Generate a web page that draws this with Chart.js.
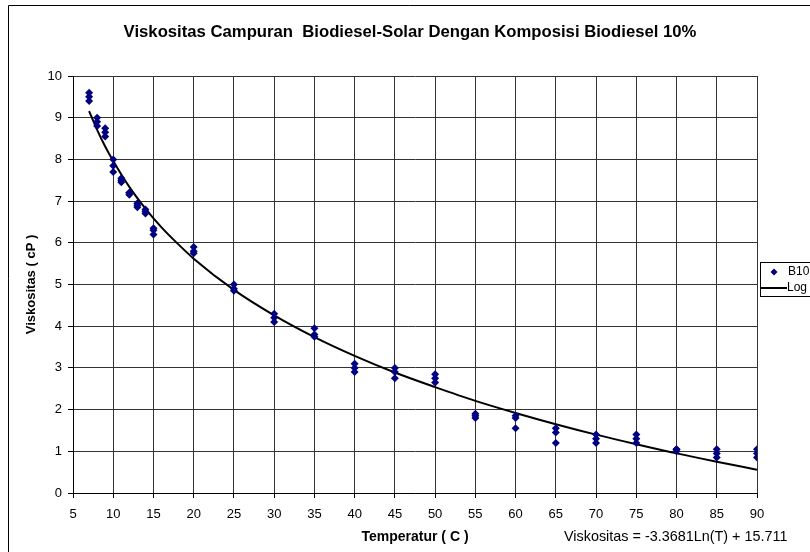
<!DOCTYPE html>
<html>
<head>
<meta charset="utf-8">
<script src="https://cdn.jsdelivr.net/npm/chart.js@4/dist/chart.umd.min.js"></script>
<style>
html,body{margin:0;padding:0;background:#fff;}
#wrap{position:relative;width:810px;height:552px;}
</style>
</head>
<body>
<div id="wrap"><canvas id="c" width="810" height="552"></canvas></div>
<script>
const chartTitle = "Viskositas Campuran  Biodiesel-Solar Dengan Komposisi Biodiesel 10%";
const xAxisTitle = "Temperatur ( C )";
const yAxisTitle = "Viskositas ( cP )";
const equationText = "Viskositas = -3.3681Ln(T) + 15.711";
const seriesNames = ["B10", "Log"];

// measured points (temperature, viscosity)
const tempB10 = [7,7,7, 8,8,8, 9,9,9, 10,10,10, 11,11,11, 12,12,12, 13,13,13, 14,14,14, 15,15,15,
  20,20,20, 25,25,25, 30,30,30, 35,35,35, 40,40,40, 45,45,45, 50,50,50, 55,55,55,
  60,60,60, 65,65,65, 70,70,70, 75,75,75, 80,80,80, 85,85,85, 90,90,90];
const viscB10 = [9.6,9.5,9.4, 9.0,8.9,8.8, 8.75,8.65,8.55, 8.0,7.85,7.7, 7.55,7.5,7.45, 7.2,7.2,7.15,
  6.95,6.9,6.85, 6.8,6.75,6.7, 6.35,6.3,6.2, 5.9,5.8,5.75, 5.0,4.9,4.85, 4.3,4.2,4.1,
  3.95,3.8,3.75, 3.1,3.0,2.9, 3.0,2.9,2.75, 2.85,2.75,2.65, 1.9,1.85,1.8,
  1.85,1.8,1.55, 1.55,1.45,1.2, 1.4,1.3,1.2, 1.4,1.3,1.2, 1.05,1.05,1.0, 1.05,0.95,0.85, 1.05,0.95,0.85];

// logarithmic trend line
const trendT = [7, 8, 9, 10, 12, 14, 16, 18, 20, 25, 30, 35, 40, 45, 50, 55, 60, 65, 70, 75, 80, 85, 90];
const trendV = [9.16, 8.71, 8.31, 7.96, 7.34, 6.82, 6.37, 5.98, 5.62, 4.87, 4.26, 3.74, 3.29, 2.89, 2.54, 2.21, 1.92, 1.65, 1.40, 1.17, 0.95, 0.75, 0.56];

const FONT = "'Liberation Sans', Arial, sans-serif";

const decor = {
  id: 'decor',
  beforeDraw(chart) {
    const ctx = chart.ctx;
    ctx.save();
    ctx.fillStyle = '#fff';
    ctx.fillRect(0, 0, chart.width, chart.height);
    ctx.strokeStyle = '#000';
    ctx.lineWidth = 1;
    ctx.beginPath();
    ctx.moveTo(8.5, chart.height);
    ctx.lineTo(8.5, 5.5);
    ctx.lineTo(chart.width, 5.5);
    ctx.stroke();
    ctx.restore();
  },
  afterDraw(chart) {
    const ctx = chart.ctx;
    ctx.save();
    // title
    ctx.fillStyle = '#000';
    ctx.font = "bold 16.7px " + FONT;
    ctx.textAlign = 'center';
    ctx.textBaseline = 'middle';
    ctx.fillText(chartTitle, 410, 32);
    // equation
    ctx.font = "14.4px " + FONT;
    ctx.textAlign = 'left';
    ctx.fillText(equationText, 564, 537);
    // legend
    ctx.strokeStyle = '#000';
    ctx.lineWidth = 1;
    ctx.fillStyle = '#fff';
    ctx.fillRect(760.5, 262.5, 60, 34);
    ctx.strokeRect(760.5, 262.5, 60, 34);
    ctx.fillStyle = '#000080';
    ctx.beginPath();
    ctx.moveTo(774, 268.5); ctx.lineTo(777.5, 272); ctx.lineTo(774, 275.5); ctx.lineTo(770.5, 272);
    ctx.closePath(); ctx.fill();
    ctx.strokeStyle = '#000';
    ctx.lineWidth = 2;
    ctx.beginPath(); ctx.moveTo(761, 288); ctx.lineTo(787, 288); ctx.stroke();
    ctx.fillStyle = '#000';
    ctx.font = "12px " + FONT;
    ctx.textBaseline = 'middle';
    ctx.fillText(seriesNames[0], 788, 272);
    ctx.fillText(seriesNames[1], 787, 288);
    ctx.restore();
  }
};

const points = tempB10.map((t, i) => ({x: t, y: viscB10[i]}));
const trend = trendT.map((t, i) => ({x: t, y: trendV[i]}));

new Chart(document.getElementById('c'), {
  type: 'scatter',
  data: {
    datasets: [
      {
        label: seriesNames[0],
        data: points,
        pointStyle: 'rectRot',
        pointRadius: 4,
        pointHoverRadius: 4,
        backgroundColor: '#000080',
        borderColor: '#000080',
        borderWidth: 0,
        showLine: false,
        order: 1
      },
      {
        label: seriesNames[1],
        data: trend,
        type: 'line',
        showLine: true,
        borderColor: '#000',
        borderWidth: 2,
        pointRadius: 0,
        fill: false,
        cubicInterpolationMode: 'monotone',
        order: 2
      }
    ]
  },
  options: {
    responsive: false,
    animation: false,
    events: [],
    layout: { padding: { left: 0, right: 53, top: 76, bottom: 0 } },
    plugins: {
      legend: { display: false },
      title: { display: false },
      tooltip: { enabled: false }
    },
    scales: {
      x: {
        type: 'linear',
        min: 5, max: 90,
        afterFit(scale) { scale.height = 59; },
        border: { color: '#000', width: 1 },
        grid: { color: '#333', lineWidth: 1, tickLength: 5, tickColor: '#000' },
        ticks: { stepSize: 5, color: '#000', font: { family: FONT, size: 13 }, padding: 9, maxRotation: 0 },
        title: { display: true, text: xAxisTitle, color: '#000', font: { family: FONT, size: 14, weight: 'bold' }, padding: { top: 0, bottom: 6 } }
      },
      y: {
        type: 'linear',
        min: 0, max: 10,
        afterFit(scale) { scale.width = 73; },
        border: { color: '#000', width: 1 },
        grid: { color: '#333', lineWidth: 1, tickLength: 5, tickColor: '#000' },
        ticks: { stepSize: 1, color: '#000', font: { family: FONT, size: 13 }, padding: 6 },
        title: { display: true, text: yAxisTitle, color: '#000', font: { family: FONT, size: 13, weight: 'bold' }, padding: { top: 24, bottom: 0 } }
      }
    }
  },
  plugins: [decor]
});
</script>
</body>
</html>
